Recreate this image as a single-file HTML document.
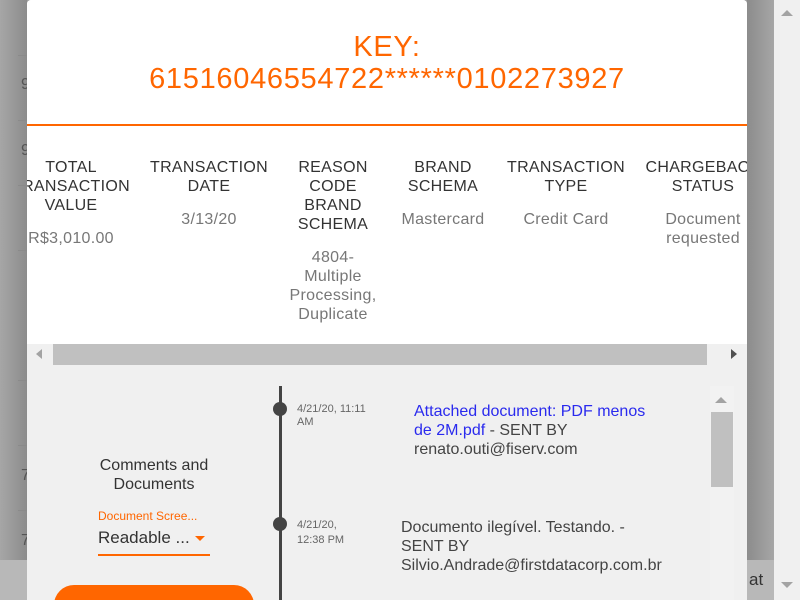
<!DOCTYPE html>
<html><head><meta charset="utf-8"><style>
*{margin:0;padding:0;box-sizing:border-box}
body{width:800px;height:600px;overflow:hidden;position:relative;background:#9e9e9e;font-family:"Liberation Sans",sans-serif;}
.a{position:absolute}
.c{position:absolute;text-align:center;font-size:16px;line-height:19px;color:#333;letter-spacing:0.3px}
.v{color:#777;margin-top:14px}
.hl{position:absolute;height:1px;background:#8a8a8a}
</style></head><body>
<div class="a" style="left:0;top:0;width:27px;height:600px;background:linear-gradient(90deg,#a6a6a6,#8c8c8c)"></div>
<div class="a" style="left:0;top:560px;width:27px;height:40px;background:#b8b8b8"></div>
<div class="hl" style="left:18px;top:55px;width:9px"></div>
<div class="hl" style="left:18px;top:120px;width:9px"></div>
<div class="hl" style="left:18px;top:185px;width:9px"></div>
<div class="hl" style="left:18px;top:250px;width:9px"></div>
<div class="hl" style="left:18px;top:380px;width:9px"></div>
<div class="hl" style="left:18px;top:445px;width:9px"></div>
<div class="hl" style="left:18px;top:510px;width:9px"></div>
<div class="a" style="left:21px;top:76px;font-size:16px;color:#555">9</div>
<div class="a" style="left:21px;top:142px;font-size:16px;color:#555">9</div>
<div class="a" style="left:21px;top:467px;font-size:16px;color:#555">7</div>
<div class="a" style="left:21px;top:532px;font-size:16px;color:#555">7</div>
<div class="a" style="left:747px;top:0;width:27px;height:600px;background:linear-gradient(90deg,#8c8c8c,#a6a6a6)"></div>
<div class="a" style="left:747px;top:560px;width:27px;height:40px;background:#b8b8b8"></div>
<div class="a" style="left:749px;top:570px;font-size:17px;color:#333">at</div>
<div class="a" style="left:774px;top:0;width:26px;height:600px;background:#f0f0f0"></div>
<div class="a" style="left:781px;top:10px;border-left:6px solid transparent;border-right:6px solid transparent;border-bottom:6px solid #a3a3a3"></div>
<div class="a" style="left:781px;top:582px;border-left:6px solid transparent;border-right:6px solid transparent;border-top:6px solid #a3a3a3"></div>

<div class="a" style="left:27px;top:0;width:720px;height:600px;background:#f0f0f0;overflow:hidden;border-radius:4px 4px 0 0">
<div class="a" style="left:0;top:0;width:720px;height:344px;background:#fff"></div>
<div class="a" style="left:0;top:31px;width:720px;text-align:center;color:#ff6600;font-size:29px;line-height:32px;letter-spacing:0.7px">KEY:<br>61516046554722******0102273927</div>
<div class="a" style="left:0;top:124px;width:720px;height:2px;background:#ff6600"></div>

<div class="c" style="left:-21px;top:158px;width:130px">TOTAL<br>TRANSACTION<br>VALUE<div class="v">R$3,010.00</div></div>
<div class="c" style="left:117px;top:158px;width:130px">TRANSACTION<br>DATE<div class="v">3/13/20</div></div>
<div class="c" style="left:251px;top:158px;width:110px">REASON<br>CODE<br>BRAND<br>SCHEMA<div class="v">4804-<br>Multiple<br>Processing,<br>Duplicate</div></div>
<div class="c" style="left:356px;top:158px;width:120px">BRAND<br>SCHEMA<div class="v">Mastercard</div></div>
<div class="c" style="left:474px;top:158px;width:130px">TRANSACTION<br>TYPE<div class="v">Credit Card</div></div>
<div class="c" style="left:611px;top:158px;width:130px;white-space:nowrap">CHARGEBACK<br>STATUS<div class="v">Document<br>requested</div></div>

<div class="a" style="left:0;top:344px;width:720px;height:22px;background:#f0f0f0"></div>
<div class="a" style="left:26px;top:344px;width:654px;height:21px;background:#c0c0c0"></div>
<div class="a" style="left:9px;top:349px;border-top:5px solid transparent;border-bottom:5px solid transparent;border-right:6px solid #a3a3a3"></div>
<div class="a" style="left:704px;top:349px;border-top:5px solid transparent;border-bottom:5px solid transparent;border-left:6px solid #505050"></div>

<div class="a" style="left:27px;top:456px;width:200px;text-align:center;font-size:16px;line-height:19px;color:#333">Comments and<br>Documents</div>
<div class="a" style="left:71px;top:509px;font-size:12px;color:#ff6600">Document Scree...</div>
<div class="a" style="left:71px;top:528px;font-size:17px;color:#333">Readable ...</div>
<div class="a" style="left:168px;top:536px;border-left:5px solid transparent;border-right:5px solid transparent;border-top:5px solid #ff6600"></div>
<div class="a" style="left:71px;top:554px;width:112px;height:2px;background:#ff6600"></div>
<div class="a" style="left:27px;top:585px;width:200px;height:40px;border-radius:20px;background:#ff6600"></div>

<div class="a" style="left:252px;top:386px;width:3px;height:214px;background:#444"></div>
<div class="a" style="left:246px;top:402px;width:14px;height:14px;border-radius:50%;background:#444"></div>
<div class="a" style="left:246px;top:517px;width:14px;height:14px;border-radius:50%;background:#444"></div>
<div class="a" style="left:270px;top:403px;font-size:11px;line-height:13px;color:#666">4/21/20, 11:11<br>AM</div>
<div class="a" style="left:270px;top:518px;font-size:11px;line-height:15px;color:#666">4/21/20,<br>12:38 PM</div>
<div class="a" style="left:387px;top:402px;width:300px;font-size:16px;line-height:19px;color:#444;white-space:nowrap"><span style="color:#2a2aee">Attached document: PDF menos<br>de 2M.pdf</span> - SENT BY<br>renato.outi@fiserv.com</div>
<div class="a" style="left:374px;top:518px;width:300px;font-size:16px;line-height:19px;color:#444;white-space:nowrap">Documento ilegível. Testando. -<br>SENT BY<br>Silvio.Andrade@firstdatacorp.com.br</div>

<div class="a" style="left:683px;top:386px;width:24px;height:214px;background:#f2f2f2"></div>
<div class="a" style="left:688px;top:397px;border-left:6px solid transparent;border-right:6px solid transparent;border-bottom:6px solid #a3a3a3"></div>
<div class="a" style="left:684px;top:412px;width:22px;height:75px;background:#c0c0c0"></div>
</div>
</body></html>
